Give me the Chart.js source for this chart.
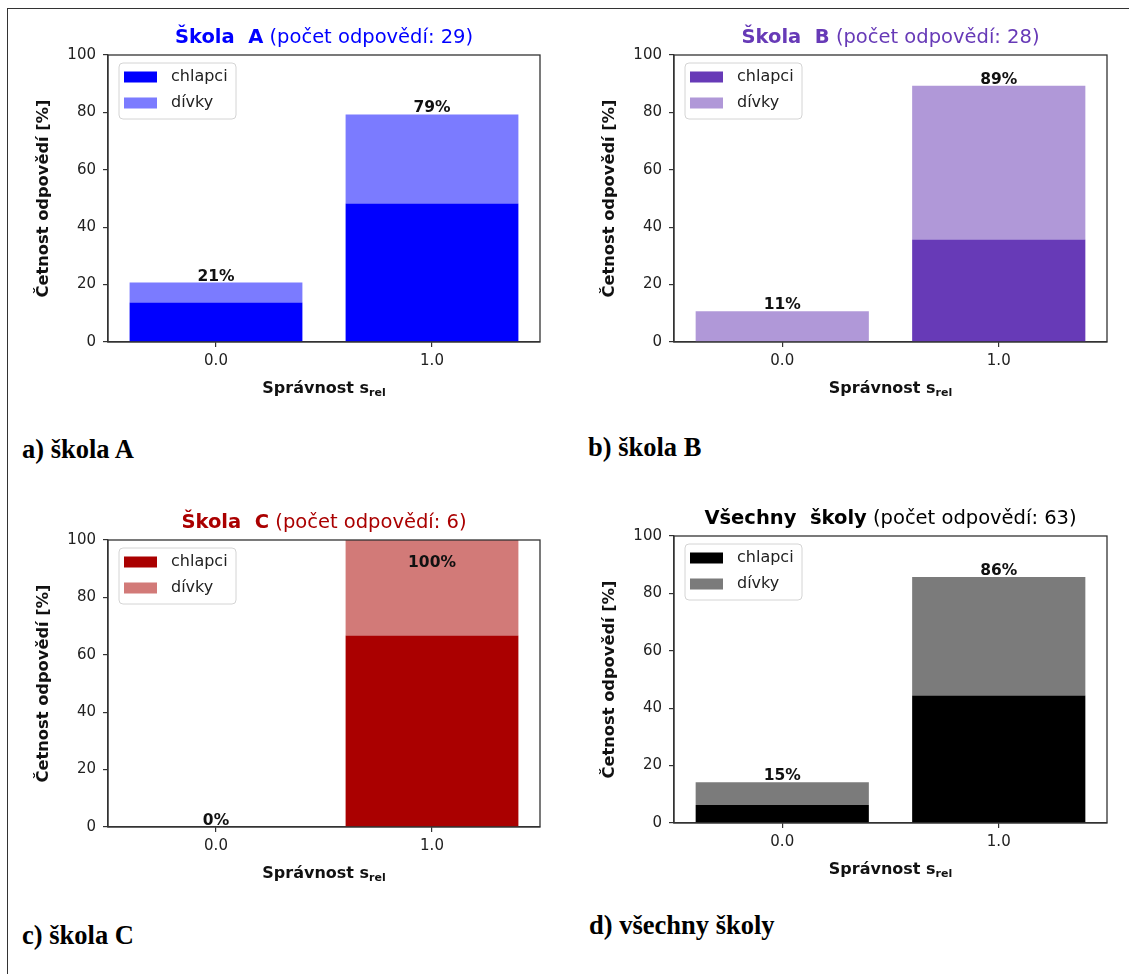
<!DOCTYPE html>
<html>
<head>
<meta charset="utf-8">
<script src="https://cdn.jsdelivr.net/npm/chart.js@4/dist/chart.umd.min.js"></script>
<style>
  html, body { margin: 0; padding: 0; background: #fff; }
  #page { position: relative; width: 1129px; height: 974px; overflow: hidden; background: #fff; }
  #frame { position: absolute; left: 7px; top: 8px; width: 1200px; height: 1000px;
           border-top: 1.5px solid #333; border-left: 1.5px solid #333; }
  canvas { position: absolute; }
  .cap { position: absolute; font-family: 'Liberation Serif', 'Times New Roman', serif;
         font-weight: bold; font-size: 26.5px; color: #000; white-space: nowrap; line-height: 1; }
</style>
</head>
<body>
<div id="page">
  <div id="frame"></div>
  <canvas id="cA" width="560" height="420" style="left:0;top:0"></canvas>
  <canvas id="cB" width="569" height="420" style="left:560px;top:0"></canvas>
  <canvas id="cC" width="560" height="420" style="left:0;top:480px"></canvas>
  <canvas id="cD" width="569" height="420" style="left:560px;top:480px"></canvas>
  <div class="cap" id="capA" style="left:22px;top:436px"></div>
  <div class="cap" id="capB" style="left:588px;top:434px"></div>
  <div class="cap" id="capC" style="left:22px;top:922px"></div>
  <div class="cap" id="capD" style="left:589px;top:912px"></div>
</div>
<script>
// --- data ---
const categories = ['0.0', '1.0'];
const seriesNames = ['chlapci', 'dívky'];
const schoolNames = ['Škola  A', 'Škola  B', 'Škola  C', 'Všechny  školy'];
const responseCounts = [29, 28, 6, 63];

// percent of responses per category (0.0, 1.0)
const boysA = [13.8, 48.3];
const girlsA = [6.9, 31.0];
const boysB = [0, 35.7];
const girlsB = [10.7, 53.6];
const boysC = [0, 66.7];
const girlsC = [0, 33.3];
const boysAll = [6.3, 44.4];
const girlsAll = [7.9, 41.3];

// labels printed above the bars
const pctA = ['21%', '79%'];
const pctB = ['11%', '89%'];
const pctC = ['0%', '100%'];
const pctAll = ['15%', '86%'];

const captions = ['a) škola A', 'b) škola B', 'c) škola C', 'd) všechny školy'];
const yTicks = [0, 20, 40, 60, 80, 100];

// colours
const boysColors = ['#0000ff', '#673ab7', '#aa0000', '#000000'];
const girlsColors = ['#7b7bff', '#b098d8', '#d27a78', '#7b7b7b'];

Chart.defaults.font.family = '"DejaVu Sans", sans-serif';
Chart.defaults.color = '#222';

const FONT = '"DejaVu Sans", sans-serif';

// draws frame, title, legend, axis titles and the bar totals
const panelDecor = {
  id: 'panelDecor',
  afterDatasetsDraw(chart, args, opts) {
    const ctx = chart.ctx;
    const a = chart.chartArea;
    const yScale = chart.scales.y;
    const cx = (a.left + a.right) / 2;
    const cy = (a.top + a.bottom) / 2;
    ctx.save();

    // spines
    ctx.strokeStyle = '#333';
    ctx.lineWidth = 1.3;
    ctx.strokeRect(a.left, a.top, a.right - a.left, a.bottom - a.top);

    // legend box
    const lx = a.left + 11, ly = a.top + 8, lw = 117, lh = 56;
    ctx.beginPath();
    ctx.roundRect(lx, ly, lw, lh, 4);
    ctx.fillStyle = 'rgba(255,255,255,0.8)';
    ctx.fill();
    ctx.strokeStyle = '#d4d4d4';
    ctx.lineWidth = 1;
    ctx.stroke();
    chart.data.datasets.forEach((d, k) => {
      const ry = ly + 14 + k * 26;
      ctx.fillStyle = d.backgroundColor;
      ctx.fillRect(lx + 5, ry - 5.5, 33, 11);
      ctx.fillStyle = '#222';
      ctx.font = '16px ' + FONT;
      ctx.textAlign = 'left';
      ctx.textBaseline = 'middle';
      ctx.fillText(d.label, lx + 52, ry);
    });

    // totals above the bars
    const meta = chart.getDatasetMeta(0);
    ctx.fillStyle = '#111';
    ctx.font = 'bold 15.5px ' + FONT;
    ctx.textAlign = 'center';
    ctx.textBaseline = 'alphabetic';
    chart.data.labels.forEach((lab, i) => {
      const total = chart.data.datasets.reduce((s, d) => s + d.data[i], 0);
      const py = yScale.getPixelForValue(Math.min(total, 90));
      ctx.fillText(opts.pct[i], meta.data[i].x, py - 2);
    });

    // title: bold school name + normal count
    const boldPart = opts.name;
    const normPart = ' (počet odpovědí: ' + opts.n + ')';
    const tf = '19.5px ' + FONT;
    ctx.font = 'bold ' + tf;
    const w1 = ctx.measureText(boldPart).width;
    ctx.font = tf;
    const w2 = ctx.measureText(normPart).width;
    const tx = cx - (w1 + w2) / 2;
    const ty = a.top - 17;
    ctx.fillStyle = opts.color;
    ctx.textAlign = 'left';
    ctx.textBaseline = 'middle';
    ctx.font = 'bold ' + tf;
    ctx.fillText(boldPart, tx, ty);
    ctx.font = tf;
    ctx.fillText(normPart, tx + w1, ty);

    // x axis title with subscript
    ctx.fillStyle = '#111';
    ctx.font = 'bold 16px ' + FONT;
    const m = 'Správnost s';
    const mw = ctx.measureText(m).width;
    ctx.font = 'bold 11px ' + FONT;
    const sw = ctx.measureText('rel').width;
    const sx = cx - (mw + sw) / 2;
    const xy = a.bottom + 47;
    ctx.font = 'bold 16px ' + FONT;
    ctx.fillText(m, sx, xy);
    ctx.font = 'bold 11px ' + FONT;
    ctx.fillText('rel', sx + mw, xy + 4);

    // y axis title
    ctx.translate(a.left - 64, cy);
    ctx.rotate(-Math.PI / 2);
    ctx.font = 'bold 16.3px ' + FONT;
    ctx.textAlign = 'center';
    ctx.fillText('Četnost odpovědí [%]', 0, 0);

    ctx.restore();
  }
};

function makePanel(id, area, boys, girls, k, pct) {
  const canvas = document.getElementById(id);
  const W = canvas.width, H = canvas.height;
  const yW = 60, xH = 40;
  new Chart(canvas, {
    type: 'bar',
    data: {
      labels: categories,
      datasets: [
        { label: seriesNames[0], data: boys, backgroundColor: boysColors[k], borderWidth: 0 },
        { label: seriesNames[1], data: girls, backgroundColor: girlsColors[k], borderWidth: 0 }
      ]
    },
    options: {
      responsive: false,
      animation: false,
      events: [],
      layout: {
        padding: { left: area.l - yW, top: area.t, right: W - area.r, bottom: H - area.b - xH }
      },
      datasets: { bar: { categoryPercentage: 0.8, barPercentage: 1.0 } },
      plugins: {
        legend: { display: false },
        tooltip: { enabled: false },
        panelDecor: { name: schoolNames[k], n: responseCounts[k], color: boysColors[k], pct: pct }
      },
      scales: {
        x: {
          stacked: true,
          offset: true,
          afterFit(s) { s.height = xH; },
          grid: { offset: false, drawOnChartArea: false, drawTicks: true, tickLength: 5, color: '#333', lineWidth: 1.2 },
          border: { display: true, color: '#333', width: 1.3 },
          ticks: { font: { size: 15 }, color: '#222', padding: 5 }
        },
        y: {
          stacked: true,
          min: 0,
          max: 100,
          afterFit(s) { s.width = yW; },
          afterBuildTicks(s) { s.ticks = yTicks.map(v => ({ value: v })); },
          grid: { drawOnChartArea: false, drawTicks: true, tickLength: 5, color: '#333', lineWidth: 1.2 },
          border: { display: true, color: '#333', width: 1.3 },
          ticks: { font: { size: 15 }, color: '#222', padding: 7 }
        }
      }
    },
    plugins: [panelDecor]
  });
}

makePanel('cA', { l: 108, t: 55, r: 540, b: 342 }, boysA, girlsA, 0, pctA);
makePanel('cB', { l: 114, t: 55, r: 547, b: 342 }, boysB, girlsB, 1, pctB);
makePanel('cC', { l: 108, t: 60, r: 540, b: 347 }, boysC, girlsC, 2, pctC);
makePanel('cD', { l: 114, t: 56, r: 547, b: 343 }, boysAll, girlsAll, 3, pctAll);

['capA', 'capB', 'capC', 'capD'].forEach((id, i) => {
  document.getElementById(id).textContent = captions[i];
});
</script>
</body>
</html>
